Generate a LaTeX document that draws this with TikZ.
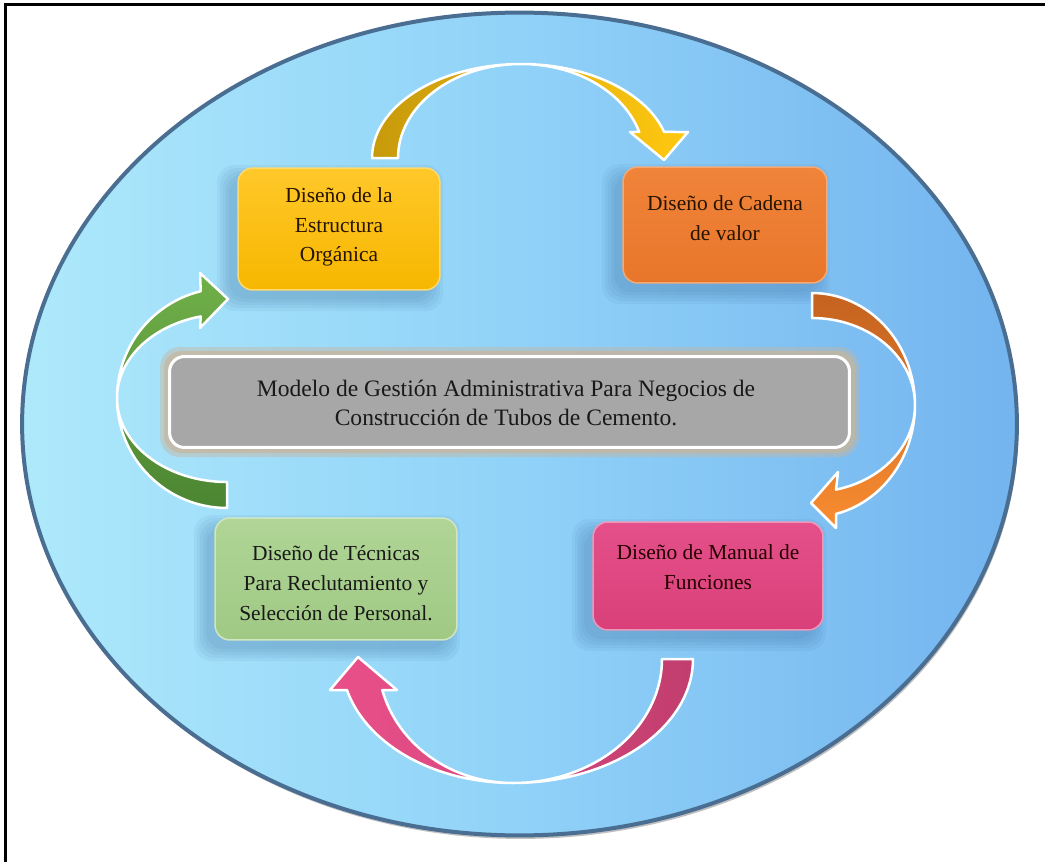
\documentclass[tikz,border=0pt]{standalone}
\usepackage{fontspec}
\IfFontExistsTF{LiberationSerif-Regular.ttf}
  {\setmainfont{LiberationSerif}[Extension=.ttf, UprightFont=*-Regular,
     BoldFont=*-Bold, ItalicFont=*-Italic, BoldItalicFont=*-BoldItalic]}
  {\setmainfont{Liberation Serif}}
\usetikzlibrary{shadows,shapes.geometric}

% palette
\definecolor{skyA}{HTML}{AEE9FB}
\definecolor{skyB}{HTML}{90D2F8}
\definecolor{skyC}{HTML}{74B4EF}
\definecolor{rimC}{HTML}{4A6E92}
\definecolor{shadeC}{HTML}{3A6A9A}
\definecolor{goldA}{HTML}{FFC82A}
\definecolor{goldB}{HTML}{F7B700}
\definecolor{orgA}{HTML}{F0843A}
\definecolor{orgB}{HTML}{E8762A}
\definecolor{greyA}{HTML}{A7A7A7}
\definecolor{tanC}{HTML}{C8B59D}
\definecolor{leafA}{HTML}{B0D596}
\definecolor{leafB}{HTML}{A0C984}
\definecolor{roseA}{HTML}{E5508A}
\definecolor{roseB}{HTML}{D94079}
\definecolor{arrYa}{HTML}{C79A0C}
\definecolor{arrYb}{HTML}{FFC810}
\definecolor{arrOa}{HTML}{C4621F}
\definecolor{arrOb}{HTML}{F88C30}
\definecolor{arrGa}{HTML}{70B049}
\definecolor{arrGb}{HTML}{4C8531}
\definecolor{arrPa}{HTML}{EA508A}
\definecolor{arrPb}{HTML}{C13E6E}

% soft shadow behind a box given by its corners (pixel units)
\newcommand\softshade[4]{%
  \foreach \g in {0,3,6,9,12}{%
    \fill[shadeC, opacity=0.07, rounded corners=0.35cm]
      (#1-\g-9, #2-\g+9) rectangle (#3+\g-9, #4+\g+9);}}

\begin{document}
\begin{tikzpicture}[x=0.02cm, y=-0.02cm,
  stepbox/.style={rounded corners=0.3cm, inner sep=0pt, line width=0.03cm},
  lbl/.style={align=center, inner sep=0pt, font=\rmfamily\fontsize{12.2}{17}\selectfont},
  curved/.style={draw=white, line width=0.05cm, line join=round}]
\useasboundingbox (0,0) rectangle (1045,862);
\fill[white] (0,0) rectangle (1045,862);

% open frame: left and top rules
\draw[line width=0.06cm] (5.3,862) -- (5.3,4.7) -- (1045,4.7);

% blue disc
\node[ellipse, minimum width=19.9cm, minimum height=16.46cm, inner sep=0pt,
      draw=rimC, line width=0.08cm,
      left color=skyA, right color=skyC, middle color=skyB,
      drop shadow={shadow xshift=0.03cm, shadow yshift=-0.07cm, opacity=0.35, fill=black!70}]
  (ring) at (519.5,424) {};

% box shadows
\softshade{238}{168}{440}{290}
\softshade{623}{167}{827}{283}
\softshade{215}{518}{457}{640}
\softshade{593}{522}{823}{630}

% central box with glow
\fill[tanC, opacity=0.45, rounded corners=0.4cm] (160,347) rectangle (859,457);
\fill[tanC, opacity=0.7, rounded corners=0.35cm] (164,351) rectangle (855,453);
\node[stepbox, draw=white, line width=0.06cm, fill=greyA,
      minimum width=13.6cm, minimum height=1.82cm] (core) at (509.5,402) {};
\node[align=center, inner sep=0pt, font=\rmfamily\fontsize{13.4}{17}\selectfont, text=black!90]
  (coretxt) at (506,403) {Modelo de Gestión Administrativa Para Negocios de\\Construcción de Tubos de Cemento.};

% four stage boxes
\node[stepbox, draw=goldA!70!white, top color=goldA, bottom color=goldB,
      minimum width=4.04cm, minimum height=2.44cm] (b1) at (339,229) {};
\node[lbl, text=black!85!orange] (t1) at (339,227) {Diseño de la\\Estructura\\Orgánica};

\node[stepbox, draw=orgA!70!white, top color=orgA, bottom color=orgB,
      minimum width=4.08cm, minimum height=2.32cm] (b2) at (725,225) {};
\node[lbl, text=black!85!orange] (t2) at (725,218) {Diseño de Cadena\\de valor};

\node[stepbox, draw=leafA!60!white, top color=leafA, bottom color=leafB,
      minimum width=4.84cm, minimum height=2.44cm] (b4) at (336,579) {};
\node[lbl, text=black!90] (t4) at (336,583) {Diseño de Técnicas\\Para Reclutamiento y\\Selección de Personal.};

\node[stepbox, draw=roseA!60!white, top color=roseA, bottom color=roseB,
      minimum width=4.6cm, minimum height=2.16cm] (b5) at (708,576) {};
\node[lbl, text=black!85!red] (t5) at (708,567) {Diseño de Manual de\\Funciones};

% curved arrows between the stages
% top: towards the value chain
\path[curved, left color=arrYa, right color=arrYb]
  (372,158) -- plot[domain=180:343.94, samples=60, variable=\t] ({521+149*cos(\t)}, {158+94*sin(\t)})
  -- (688,132) -- (664,160) -- (630,132)
  -- plot[domain=343.94:180, samples=60, variable=\t] ({521+123*cos(\t)}, {158+94*sin(\t)})
  -- cycle;
% right: towards the manual of functions
\path[curved, top color=arrOa, bottom color=arrOb]
  (812,293) -- plot[domain=-90:76.5, samples=60, variable=\t] ({812+103*cos(\t)}, {405+112*sin(\t)})
  -- (836,528) -- (811,503) -- (838,472)
  -- plot[domain=76.5:-90, samples=60, variable=\t] ({812+103*cos(\t)}, {405+87*sin(\t)})
  -- cycle;
% bottom: towards recruitment
\path[curved, left color=arrPa, right color=arrPb]
  (693,659) -- plot[domain=0:90, samples=40, variable=\t] ({513+180*cos(\t)}, {659+124*sin(\t)})
  -- plot[domain=90:165.52, samples=40, variable=\t] ({513+171.5*cos(\t)}, {659+124*sin(\t)})
  -- (330,690) -- (358,657) -- (397,690)
  -- plot[domain=165.52:90, samples=40, variable=\t] ({513+135*cos(\t)}, {659+124*sin(\t)})
  -- plot[domain=90:0, samples=40, variable=\t] ({513+149*cos(\t)}, {659+124*sin(\t)})
  -- cycle;
% left: towards the organic structure
\path[curved, top color=arrGa, bottom color=arrGb]
  (227,508) -- plot[domain=90:256.2, samples=60, variable=\t] ({227+110*cos(\t)}, {398+110*sin(\t)})
  -- (200,273) -- (228,299) -- (200,328)
  -- plot[domain=256.2:90, samples=60, variable=\t] ({227+110*cos(\t)}, {398+84*sin(\t)})
  -- cycle;
\end{tikzpicture}
\end{document}
